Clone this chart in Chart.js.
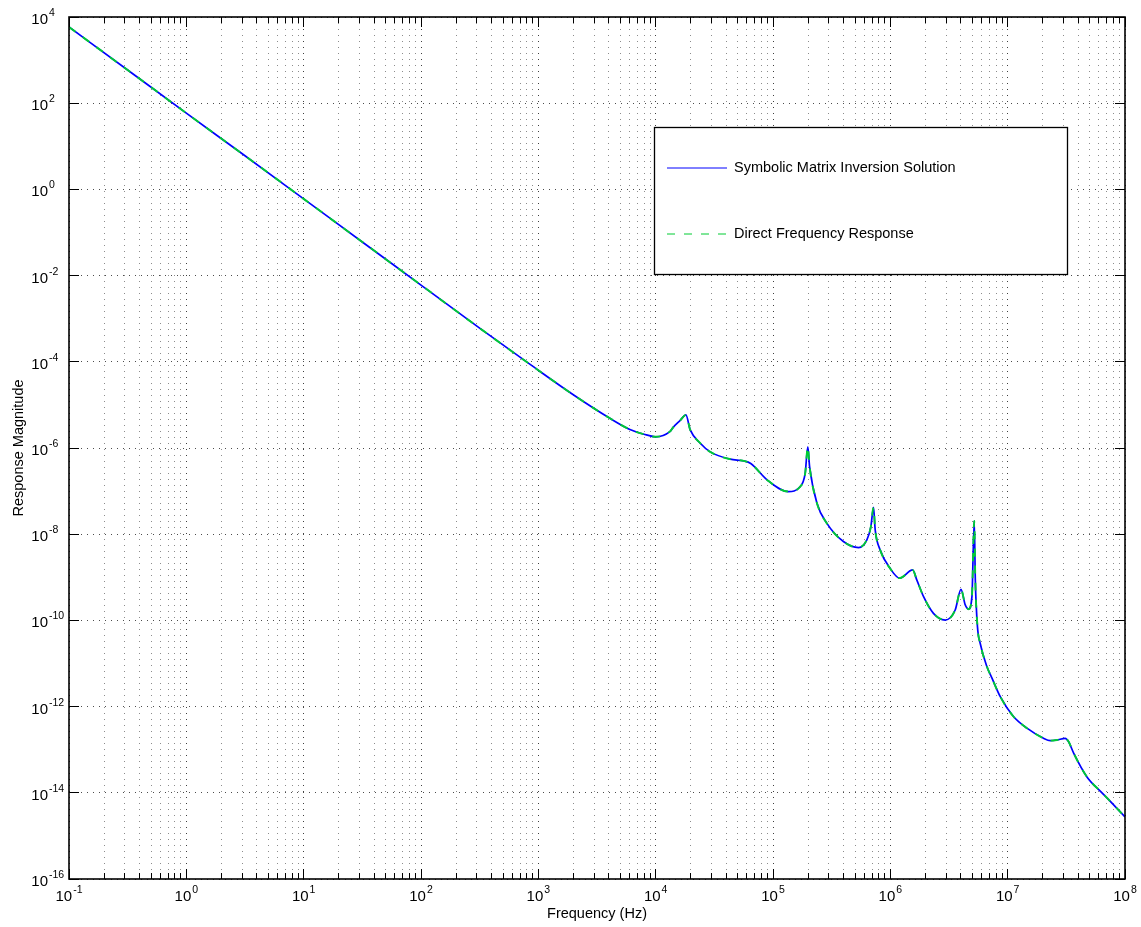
<!DOCTYPE html>
<html>
<head>
<meta charset="utf-8">
<title>Response Magnitude</title>
<script src="https://cdn.jsdelivr.net/npm/chart.js@4.4.0/dist/chart.umd.min.js"></script>
<style>
    html, body { margin: 0; padding: 0; background: #fff; }
    #chart-wrap { position: relative; width: 1141px; height: 927px; background: #fff; }
</style>
</head>
<body>
<div id="chart-wrap"><canvas id="response-chart"></canvas></div>
<script>
var freqHz = [
    0.1, 0.316, 1, 3.16, 10, 31.6, 100, 316, 851, 2000, 4070, 6030, 7940,
    1.0e4, 1.32e4, 1.41e4, 1.62e4, 1.81e4, 1.97e4, 2.40e4, 2.92e4, 4.32e4, 5.62e4, 6.46e4, 8.91e4,
    1.35e5, 1.70e5, 1.88e5, 1.98e5, 2.05e5, 2.37e5, 2.88e5, 3.98e5, 5.37e5, 6.31e5, 6.82e5, 7.19e5, 7.43e5, 8.20e5,
    1.0e6, 1.20e6, 1.55e6, 1.68e6, 1.92e6, 2.33e6, 2.94e6, 3.57e6, 4.0e6, 4.35e6, 4.65e6, 4.96e6, 5.19e6, 5.30e6, 5.53e6, 5.83e6, 6.65e6, 7.35e6, 8.65e6,
    1.12e7, 1.46e7, 2.02e7, 2.31e7, 2.63e7, 3.09e7, 3.30e7, 3.65e7, 4.74e7, 6.37e7, 8.0e7, 1.0e8
];

// Symbolic matrix inversion solution (blue, solid)
var symbolicMag = [
    5860, 589, 58.9, 6.03, 0.603, 0.0603, 6.03e-3, 6.03e-4, 8.71e-5, 1.70e-5, 4.90e-6, 2.69e-6, 2.09e-6,
    1.82e-6, 2.40e-6, 3.02e-6, 4.37e-6, 5.89e-6, 2.63e-6, 1.29e-6, 8.13e-7, 5.50e-7, 5.01e-7, 4.37e-7, 1.82e-7,
    9.77e-8, 1.26e-7, 2.57e-7, 1.07e-6, 3.72e-7, 5.25e-8, 1.78e-8, 6.76e-9, 4.90e-9, 7.41e-9, 1.48e-8, 4.17e-8, 1.26e-8, 4.27e-9,
    1.58e-9, 9.55e-10, 1.48e-9, 8.71e-10, 3.55e-10, 1.46e-10, 1.02e-10, 1.74e-10, 5.25e-10, 2.29e-10, 1.82e-10, 3.55e-10, 2.04e-8, 8.71e-10, 7.08e-11, 2.95e-11, 8.51e-12, 4.57e-12, 1.70e-12,
    5.89e-13, 3.16e-13, 1.84e-13, 1.62e-13, 1.68e-13, 1.84e-13, 1.55e-13, 8.32e-14, 2.34e-14, 1.0e-14, 5.25e-15, 2.75e-15
];

// Direct frequency response (green, dashed) - lies on top of the blue curve
var directMag = [
    5860, 589, 58.9, 6.03, 0.603, 0.0603, 6.03e-3, 6.03e-4, 8.71e-5, 1.70e-5, 4.90e-6, 2.69e-6, 2.09e-6,
    1.82e-6, 2.40e-6, 3.02e-6, 4.37e-6, 5.89e-6, 2.63e-6, 1.29e-6, 8.13e-7, 5.50e-7, 5.01e-7, 4.37e-7, 1.82e-7,
    9.77e-8, 1.26e-7, 2.57e-7, 1.07e-6, 3.72e-7, 5.25e-8, 1.78e-8, 6.76e-9, 4.90e-9, 7.41e-9, 1.48e-8, 4.17e-8, 1.26e-8, 4.27e-9,
    1.58e-9, 9.55e-10, 1.48e-9, 8.71e-10, 3.55e-10, 1.46e-10, 1.02e-10, 1.74e-10, 5.25e-10, 2.29e-10, 1.82e-10, 3.55e-10, 2.04e-8, 8.71e-10, 7.08e-11, 2.95e-11, 8.51e-12, 4.57e-12, 1.70e-12,
    5.89e-13, 3.16e-13, 1.84e-13, 1.62e-13, 1.68e-13, 1.84e-13, 1.55e-13, 8.32e-14, 2.34e-14, 1.0e-14, 5.25e-15, 2.75e-15
];

// Tick labels (powers of ten)
var xTickExponents = [-1, 0, 1, 2, 3, 4, 5, 6, 7, 8];
var yTickExponents = [4, 2, 0, -2, -4, -6, -8, -10, -12, -14, -16];

var seriesLabels = ['Symbolic Matrix Inversion Solution', 'Direct Frequency Response'];
var xTitle = 'Frequency (Hz)';
var yTitle = 'Response Magnitude';

(function() {
    'use strict';

    var FONT = '"Liberation Sans", Arial, Helvetica, sans-serif';
    var BLUE = '#0000ff';
    var GREEN = '#00cc33';
    var GREEN_DASH = [8, 9];

    var ResponseChart = {
        /**
         * Build the chart
         */
        init: function() {
            var ctx = document.getElementById('response-chart').getContext('2d');
            var self = this;

            new Chart(ctx, {
                type: 'line',
                data: {
                    datasets: [{
                        label: seriesLabels[0],
                        data: this.toPoints(freqHz, symbolicMag),
                        borderColor: BLUE,
                        borderWidth: 1.7,
                        pointRadius: 0,
                        fill: false,
                        cubicInterpolationMode: 'monotone',
                        order: 2
                    }, {
                        label: seriesLabels[1],
                        data: this.toPoints(freqHz, directMag),
                        borderColor: GREEN,
                        borderWidth: 1.9,
                        borderDash: GREEN_DASH,
                        pointRadius: 0,
                        fill: false,
                        cubicInterpolationMode: 'monotone',
                        order: 1
                    }]
                },
                options: {
                    responsive: true,
                    maintainAspectRatio: false,
                    animation: false,
                    devicePixelRatio: 1,
                    layout: {
                        padding: { top: 17, right: 16, left: 0, bottom: 0 }
                    },
                    plugins: {
                        legend: { display: false },
                        tooltip: { enabled: false }
                    },
                    scales: {
                        x: {
                            type: 'logarithmic',
                            min: 0.1,
                            max: 1e8,
                            afterBuildTicks: function(scale) {
                                scale.ticks = self.xTickValues().map(function(v) {
                                    return { value: v };
                                });
                            },
                            afterFit: function(scale) {
                                scale.height = 48;
                            },
                            ticks: { display: false },
                            grid: {
                                drawTicks: false,
                                lineWidth: 1,
                                color: function(c) {
                                    return self.isDecade(c.tick.value) ? 'rgba(0,0,0,0.75)' : 'rgba(0,0,0,0.45)';
                                }
                            },
                            border: { display: false, dash: [1, 5] },
                            title: {
                                display: true,
                                text: xTitle,
                                color: '#000',
                                font: { family: FONT, size: 14.5 },
                                padding: { top: 0, bottom: 4 }
                            }
                        },
                        y: {
                            type: 'logarithmic',
                            min: 1e-16,
                            max: 1e4,
                            afterBuildTicks: function(scale) {
                                scale.ticks = yTickExponents.map(function(e) {
                                    return { value: Math.pow(10, e) };
                                });
                            },
                            afterFit: function(scale) {
                                scale.width = 69;
                            },
                            ticks: { display: false },
                            grid: {
                                drawTicks: false,
                                lineWidth: 1,
                                color: 'rgba(0,0,0,0.7)'
                            },
                            border: { display: false, dash: [1, 5] },
                            title: {
                                display: true,
                                text: yTitle,
                                color: '#000',
                                font: { family: FONT, size: 14.5 },
                                padding: { top: 10, bottom: 0 }
                            }
                        }
                    }
                },
                plugins: [this.framePlugin()]
            });
        },

        /**
         * Pair frequencies with magnitudes
         */
        toPoints: function(xs, ys) {
            return xs.map(function(x, i) {
                return { x: x, y: ys[i] };
            });
        },

        /**
         * Decade ticks plus 2..9 minor ticks
         */
        xTickValues: function() {
            var values = [];
            xTickExponents.forEach(function(e, idx) {
                var base = Math.pow(10, e);
                values.push(base);
                if (idx < xTickExponents.length - 1) {
                    for (var m = 2; m <= 9; m++) {
                        values.push(m * base);
                    }
                }
            });
            return values;
        },

        isDecade: function(v) {
            var e = Math.log10(v);
            return Math.abs(e - Math.round(e)) < 1e-6;
        },

        align: function(px) {
            return Math.round(px - 0.5) + 0.5;
        },

        /**
         * Draw "10" with a raised exponent
         */
        drawPower: function(c, exp, x, baseline, mode) {
            var expText = String(exp);
            c.font = '15px ' + FONT;
            var wBase = c.measureText('10').width;
            c.font = '10.5px ' + FONT;
            var wExp = c.measureText(expText).width;
            var start = mode === 'center' ? x - (wBase + 1 + wExp) / 2 : x - wBase;

            c.textAlign = 'left';
            c.textBaseline = 'alphabetic';
            c.font = '15px ' + FONT;
            c.fillText('10', start, baseline);
            c.font = '10.5px ' + FONT;
            c.fillText(expText, start + wBase + 1, baseline - 8);
        },

        /**
         * MATLAB-like frame: box, inward ticks, labels and legend
         */
        framePlugin: function() {
            var self = this;
            return {
                id: 'matlabFrame',
                afterDatasetsDraw: function(chart) {
                    var c = chart.ctx;
                    var a = chart.chartArea;
                    var xs = chart.scales.x;
                    var ys = chart.scales.y;

                    c.save();

                    // Inward ticks on all four sides
                    c.strokeStyle = '#000';
                    c.lineWidth = 1;
                    c.setLineDash([]);
                    c.beginPath();
                    xs.ticks.forEach(function(t) {
                        var px = self.align(xs.getPixelForValue(t.value));
                        var len = self.isDecade(t.value) ? 10 : 6;
                        c.moveTo(px, a.bottom);
                        c.lineTo(px, a.bottom - len);
                        c.moveTo(px, a.top);
                        c.lineTo(px, a.top + len);
                    });
                    ys.ticks.forEach(function(t) {
                        var py = self.align(ys.getPixelForValue(t.value));
                        c.moveTo(a.left, py);
                        c.lineTo(a.left + 10, py);
                        c.moveTo(a.right, py);
                        c.lineTo(a.right - 10, py);
                    });
                    c.stroke();

                    // Box
                    c.lineWidth = 1.6;
                    c.strokeRect(a.left, a.top, a.right - a.left, a.bottom - a.top);

                    // Tick labels
                    c.fillStyle = '#000';
                    xTickExponents.forEach(function(e) {
                        var px = xs.getPixelForValue(Math.pow(10, e));
                        self.drawPower(c, e, px, a.bottom + 22, 'center');
                    });
                    yTickExponents.forEach(function(e) {
                        var py = ys.getPixelForValue(Math.pow(10, e));
                        self.drawPower(c, e, a.left - 21, py + 7, 'right');
                    });

                    // Legend box
                    var box = { left: 654.5, top: 127.5, right: 1067.5, bottom: 274.5 };
                    c.fillStyle = '#fff';
                    c.fillRect(box.left, box.top, box.right - box.left, box.bottom - box.top);
                    c.strokeStyle = '#000';
                    c.lineWidth = 1.3;
                    c.strokeRect(box.left, box.top, box.right - box.left, box.bottom - box.top);

                    var rows = [168, 234];
                    chart.data.datasets.forEach(function(ds, i) {
                        var y = rows[i];
                        c.strokeStyle = ds.borderColor;
                        c.lineWidth = 1;
                        c.setLineDash(ds.borderDash || []);
                        c.beginPath();
                        c.moveTo(667, y);
                        c.lineTo(727, y);
                        c.stroke();
                        c.setLineDash([]);

                        c.fillStyle = '#000';
                        c.font = '14.5px ' + FONT;
                        c.textAlign = 'left';
                        c.textBaseline = 'middle';
                        c.fillText(ds.label, 734, y);
                    });

                    c.restore();
                }
            };
        }
    };

    ResponseChart.init();
})();
</script>
</body>
</html>
